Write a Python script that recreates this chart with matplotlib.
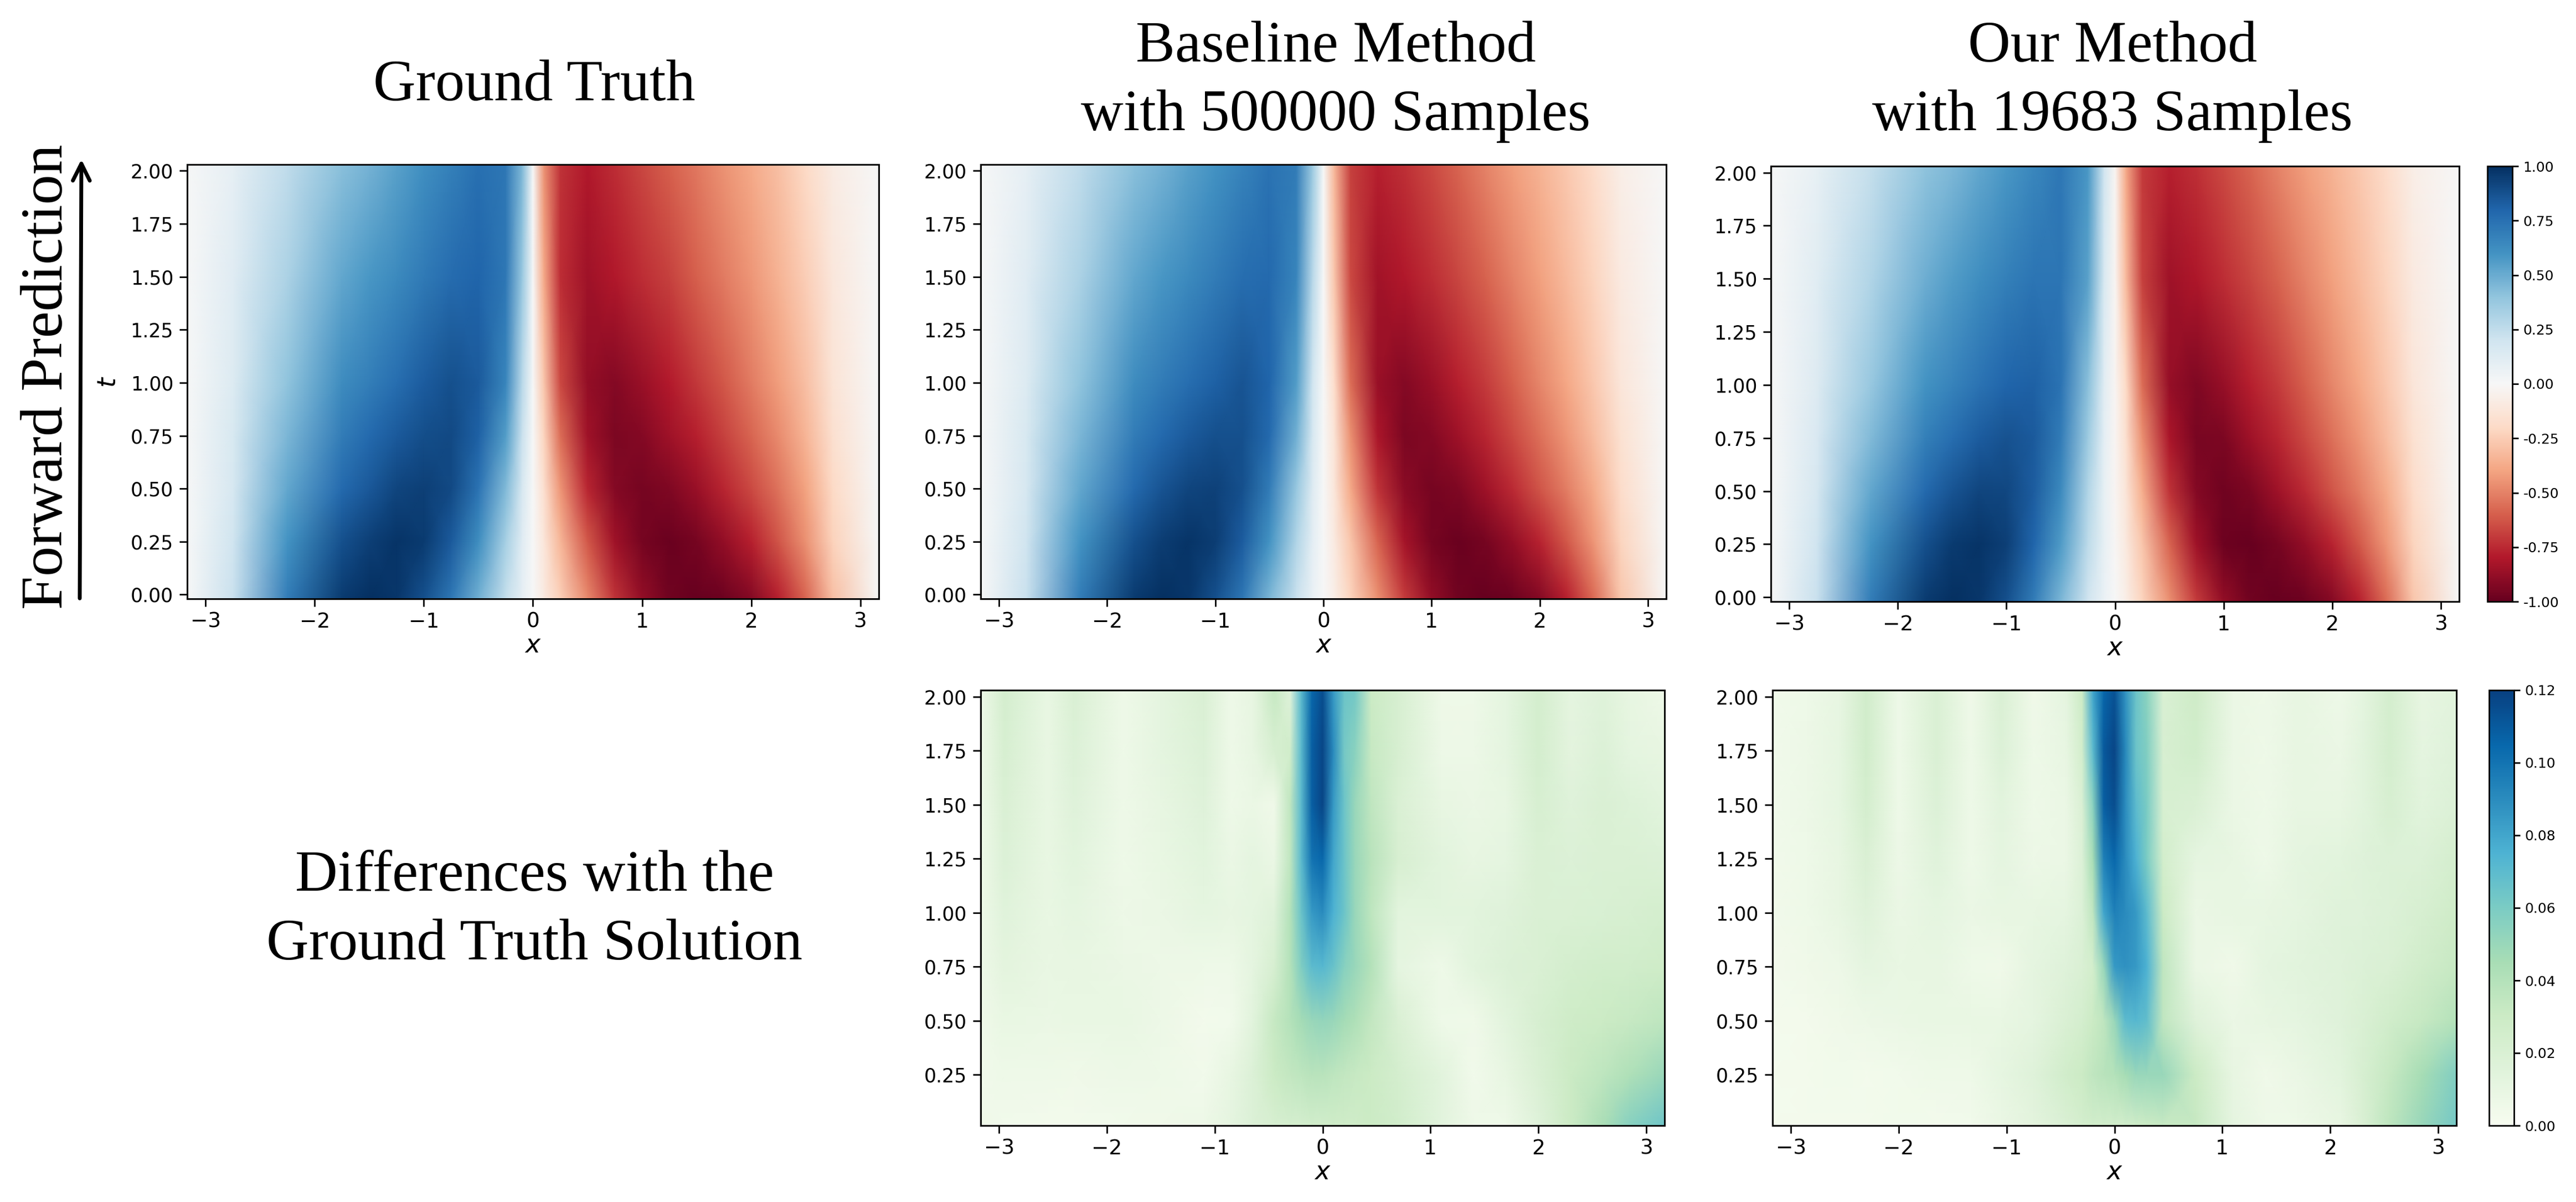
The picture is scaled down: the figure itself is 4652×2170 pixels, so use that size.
import numpy as np
import matplotlib
matplotlib.use('Agg')
import matplotlib.pyplot as plt

W, H = 4652, 2170

# grids
x_top = [-3.17, -2.75, -2.25, -1.75, -1.5, -1.25, -1, -.75, -.5, -.25, -.1, 0, .1, .25, .5, .75, 1, 1.25, 1.5, 1.75, 2, 2.25, 2.5, 2.75, 3.17]
t_top = [-0.02, .25, .5, .75, 1, 1.5, 2.03]
x_err_base = [-3.17, -2.95, -2.55, -2.3, -1.85, -1.5, -1.1, -.85, -.65, -.45, -.3, -.2, -.1, 0, .1, .2, .3, .45, .7, 1.1, 1.4, 1.7, 2, 2.3, 2.6, 2.85, 3.17]
x_err_ours = [-3.17, -2.85, -2.55, -2.3, -2, -1.65, -1.33, -1.05, -.75, -.45, -.3, -.2, -.1, 0, .1, .2, .3, .45, .75, 1.1, 1.4, 1.7, 2.1, 2.3, 2.55, 2.85, 3.17]
t_err = [.014, .25, .5, .75, 1, 1.25, 1.5, 1.75, 2.03]

truth = [
    [0, .22, .7, .96, 1, .97, .88, .72, .48, .24, .09, 0, -.09, -.24, -.48, -.72, -.88, -.97, -1, -.98, -.92, -.78, -.58, -.3, 0],
    [0, .2, .6, .88, .94, .98, .96, .84, .62, .33, .12, 0, -.12, -.33, -.62, -.85, -.96, -.99, -.96, -.88, -.78, -.63, -.46, -.23, 0],
    [0, .17, .52, .78, .85, .92, .94, .9, .74, .44, .17, 0, -.17, -.44, -.76, -.92, -.96, -.93, -.86, -.76, -.66, -.54, -.4, -.2, 0],
    [0, .16, .46, .7, .78, .84, .89, .9, .82, .56, .22, 0, -.22, -.56, -.85, -.94, -.92, -.85, -.78, -.68, -.58, -.47, -.34, -.16, 0],
    [0, .14, .4, .63, .69, .76, .83, .88, .84, .66, .28, 0, -.28, -.66, -.88, -.92, -.86, -.79, -.71, -.62, -.52, -.42, -.3, -.14, 0],
    [0, .12, .32, .52, .58, .64, .71, .77, .8, .72, .38, 0, -.38, -.74, -.85, -.8, -.74, -.68, -.6, -.52, -.44, -.35, -.25, -.11, 0],
    [0, .09, .25, .42, .47, .54, .61, .68, .75, .72, .45, 0, -.45, -.72, -.8, -.74, -.67, -.6, -.53, -.45, -.38, -.3, -.2, -.08, 0],
]
baseline = [
    [0, .22, .7, .96, 1, .97, .88, .72, .46, .22, .07, 0, -.07, -.22, -.46, -.7, -.88, -.97, -1, -.98, -.92, -.78, -.57, -.28, 0],
    [0, .2, .6, .88, .95, .98, .95, .83, .6, .3, .1, 0, -.09, -.28, -.58, -.83, -.96, -.99, -.96, -.88, -.77, -.62, -.44, -.22, 0],
    [0, .17, .52, .78, .86, .92, .93, .88, .7, .38, .13, 0, -.12, -.38, -.72, -.9, -.96, -.93, -.85, -.75, -.63, -.51, -.37, -.18, 0],
    [0, .16, .46, .7, .78, .84, .88, .88, .78, .48, .17, 0, -.14, -.46, -.82, -.94, -.92, -.85, -.76, -.66, -.55, -.44, -.31, -.15, 0],
    [0, .14, .4, .63, .7, .76, .82, .86, .8, .56, .2, 0, -.18, -.56, -.86, -.92, -.86, -.78, -.7, -.6, -.49, -.39, -.27, -.12, 0],
    [0, .12, .32, .52, .58, .64, .7, .76, .78, .66, .28, 0, -.28, -.66, -.84, -.8, -.74, -.67, -.59, -.5, -.41, -.32, -.22, -.09, 0],
    [0, .09, .25, .42, .47, .54, .6, .67, .74, .7, .36, 0, -.33, -.68, -.78, -.73, -.66, -.58, -.5, -.42, -.35, -.27, -.18, -.07, 0],
]
ours = [
    [0, .22, .7, .96, 1, .97, .88, .7, .46, .2, .07, 0, -.07, -.22, -.46, -.7, -.88, -.97, -1, -.98, -.92, -.78, -.57, -.28, 0],
    [0, .2, .6, .88, .96, .98, .94, .8, .57, .26, .08, -.01, -.1, -.28, -.58, -.85, -.98, -1, -.96, -.88, -.77, -.62, -.44, -.22, 0],
    [0, .17, .52, .78, .86, .92, .91, .83, .64, .3, .08, -.02, -.13, -.36, -.72, -.92, -.97, -.94, -.85, -.75, -.63, -.51, -.37, -.18, 0],
    [0, .15, .44, .68, .76, .83, .87, .84, .7, .36, .1, -.02, -.16, -.46, -.82, -.95, -.94, -.85, -.76, -.66, -.55, -.44, -.31, -.15, 0],
    [0, .13, .38, .6, .67, .74, .8, .82, .74, .42, .11, -.02, -.2, -.56, -.87, -.93, -.87, -.78, -.7, -.6, -.49, -.39, -.27, -.12, 0],
    [0, .11, .3, .49, .56, .62, .68, .73, .73, .54, .16, -.02, -.32, -.68, -.85, -.81, -.74, -.67, -.59, -.5, -.41, -.32, -.22, -.09, 0],
    [0, .08, .24, .4, .45, .52, .58, .65, .72, .58, .2, -.02, -.38, -.7, -.78, -.73, -.66, -.58, -.5, -.42, -.35, -.27, -.18, -.07, 0],
]
err_baseline = [
    [.005, .004, .003, .003, .004, .005, .007, .012, .018, .022, .024, .024, .026, .026, .028, .028, .028, .03, .026, .014, .006, .006, .016, .03, .044, .056, .064],
    [.004, .006, .006, .005, .007, .006, .004, .01, .018, .03, .034, .036, .038, .038, .036, .034, .032, .03, .024, .014, .004, .01, .02, .03, .036, .042, .05],
    [.005, .009, .008, .009, .009, .007, .003, .004, .014, .032, .04, .046, .05, .052, .05, .046, .042, .034, .02, .006, .005, .014, .022, .028, .03, .032, .036],
    [.006, .013, .009, .01, .008, .007, .006, .006, .012, .022, .04, .058, .07, .072, .066, .056, .05, .04, .012, .006, .014, .018, .02, .024, .026, .026, .028],
    [.006, .015, .009, .012, .007, .008, .012, .01, .012, .016, .04, .065, .085, .09, .075, .065, .05, .036, .014, .014, .014, .016, .02, .02, .021, .022, .024],
    [.006, .018, .009, .014, .006, .009, .014, .008, .012, .008, .035, .07, .1, .105, .08, .065, .05, .038, .022, .014, .01, .012, .02, .018, .02, .02, .018],
    [.006, .02, .009, .016, .006, .01, .016, .006, .008, .005, .035, .07, .108, .118, .085, .065, .05, .035, .02, .01, .008, .01, .022, .016, .02, .017, .014],
    [.006, .022, .009, .018, .006, .012, .018, .006, .01, .022, .026, .07, .108, .118, .09, .062, .055, .032, .022, .007, .007, .012, .024, .013, .018, .012, .01],
    [.006, .024, .009, .02, .006, .012, .02, .006, .01, .032, .016, .07, .105, .115, .085, .065, .062, .03, .022, .006, .006, .012, .024, .012, .016, .01, .006],
]
err_ours = [
    [.002, .003, .003, .003, .004, .003, .004, .008, .013, .02, .024, .026, .026, .026, .026, .028, .03, .032, .032, .012, .006, .006, .01, .02, .036, .05, .062],
    [.002, .003, .004, .003, .004, .006, .006, .011, .016, .026, .03, .035, .038, .04, .045, .05, .05, .05, .03, .01, .005, .008, .014, .022, .032, .045, .058],
    [.002, .003, .005, .007, .008, .009, .009, .009, .012, .02, .024, .03, .035, .05, .07, .072, .068, .035, .016, .008, .01, .012, .016, .02, .026, .032, .04],
    [.003, .005, .007, .012, .009, .01, .006, .005, .012, .016, .02, .025, .05, .085, .088, .085, .075, .035, .008, .005, .012, .014, .016, .018, .02, .026, .032],
    [.004, .006, .01, .016, .008, .012, .008, .01, .01, .012, .018, .035, .08, .095, .09, .085, .07, .03, .008, .01, .01, .012, .016, .016, .018, .022, .028],
    [.004, .006, .01, .02, .007, .015, .006, .012, .007, .008, .018, .045, .095, .105, .09, .075, .06, .025, .012, .01, .006, .012, .014, .016, .018, .018, .024],
    [.004, .007, .011, .024, .006, .018, .006, .014, .006, .008, .02, .055, .108, .115, .09, .07, .06, .022, .02, .008, .006, .01, .01, .014, .022, .014, .018],
    [.004, .007, .011, .026, .006, .02, .006, .018, .006, .01, .025, .07, .11, .118, .092, .065, .058, .022, .026, .008, .006, .01, .008, .014, .024, .012, .016],
    [.004, .006, .01, .026, .006, .02, .005, .02, .005, .012, .03, .08, .105, .113, .088, .065, .055, .02, .028, .008, .006, .01, .006, .012, .024, .01, .014],
]

top_ticks = [0, .25, .5, .75, 1, 1.25, 1.5, 1.75, 2]
err_ticks = [.25, .5, .75, 1, 1.25, 1.5, 1.75, 2]

SERIF = 'Liberation Serif'
fig = plt.figure(figsize=(W / 100, H / 100), dpi=100)


def box(left, top, right, bottom):
    return [left / W, 1 - bottom / H, (right - left) / W, (bottom - top) / H]


def panel(rect, x, t, z, cmap, vmin, vmax, ticks, ylim, ylabel=False):
    ax = fig.add_axes(box(*rect))
    mesh = ax.pcolormesh(x, t, np.array(z), shading='gouraud', cmap=cmap, vmin=vmin, vmax=vmax, rasterized=True)
    ax.set_xlim(-3.17, 3.17)
    ax.set_ylim(*ylim)
    ax.set_xticks([-3, -2, -1, 0, 1, 2, 3])
    ax.set_yticks(ticks)
    ax.set_yticklabels(['%.2f' % v for v in ticks])
    ax.tick_params(labelsize=25, width=2, length=10, pad=8)
    ax.tick_params(axis='x', labelsize=27, pad=7)
    ax.set_xlabel('$x$', fontsize=33, labelpad=2)
    if ylabel:
        ax.set_ylabel('$t$', fontsize=33, labelpad=12)
    for s in ax.spines.values():
        s.set_linewidth(2.2)
    return mesh


def cbar(mesh, rect, ticks, fmt):
    cax = fig.add_axes(box(*rect))
    cb = fig.colorbar(mesh, cax=cax)
    cb.set_ticks(ticks)
    cb.set_ticklabels([fmt % v for v in ticks])
    cb.ax.tick_params(labelsize=18, width=2, length=8, pad=6)
    cb.outline.set_linewidth(2)


m1 = panel((338, 297, 1587, 1081), x_top, t_top, truth, 'RdBu', -1, 1, top_ticks, (-0.02, 2.03), ylabel=True)
m2 = panel((1771, 297, 3009, 1081), x_top, t_top, baseline, 'RdBu', -1, 1, top_ticks, (-0.02, 2.03))
m3 = panel((3198, 300, 4441, 1086), x_top, t_top, ours, 'RdBu', -1, 1, top_ticks, (-0.02, 2.03))
cbar(m3, (4492, 300, 4537, 1086), [-1, -.75, -.5, -.25, 0, .25, .5, .75, 1], '%.2f')

m4 = panel((1771, 1246, 3006, 2032), x_err_base, t_err, err_baseline, 'GnBu', 0, .12, err_ticks, (.014, 2.03))
m5 = panel((3201, 1246, 4436, 2032), x_err_ours, t_err, err_ours, 'GnBu', 0, .12, err_ticks, (.014, 2.03))
cbar(m5, (4495, 1246, 4540, 2032), [0, .02, .04, .06, .08, .1, .12], '%.2f')

fs = 76.5
fig.text(965 / W, 1 - 156 / H, 'Ground Truth', family=SERIF, fontsize=fs, ha='center', va='center')
fig.text(2412 / W, 1 - 148 / H, 'Baseline Method\nwith 500000 Samples', family=SERIF, fontsize=fs, ha='center', va='center', linespacing=1.38)
fig.text(3815 / W, 1 - 148 / H, 'Our Method\nwith 19683 Samples', family=SERIF, fontsize=fs, ha='center', va='center', linespacing=1.38)
fig.text(965 / W, 1 - 1645 / H, 'Differences with the\nGround Truth Solution', family=SERIF, fontsize=fs, ha='center', va='center', linespacing=1.38)
fig.text(86 / W, 1 - 680 / H, 'Forward Prediction', family=SERIF, fontsize=78, rotation=90, ha='center', va='center')

fig.add_artist(matplotlib.patches.FancyArrowPatch((144 / W, 1 - 1083 / H), (147 / W, 1 - 285 / H),
                                                  transform=fig.transFigure, arrowstyle='->', mutation_scale=55, lw=5, color='black'))

fig.savefig('out.png', dpi=100)
